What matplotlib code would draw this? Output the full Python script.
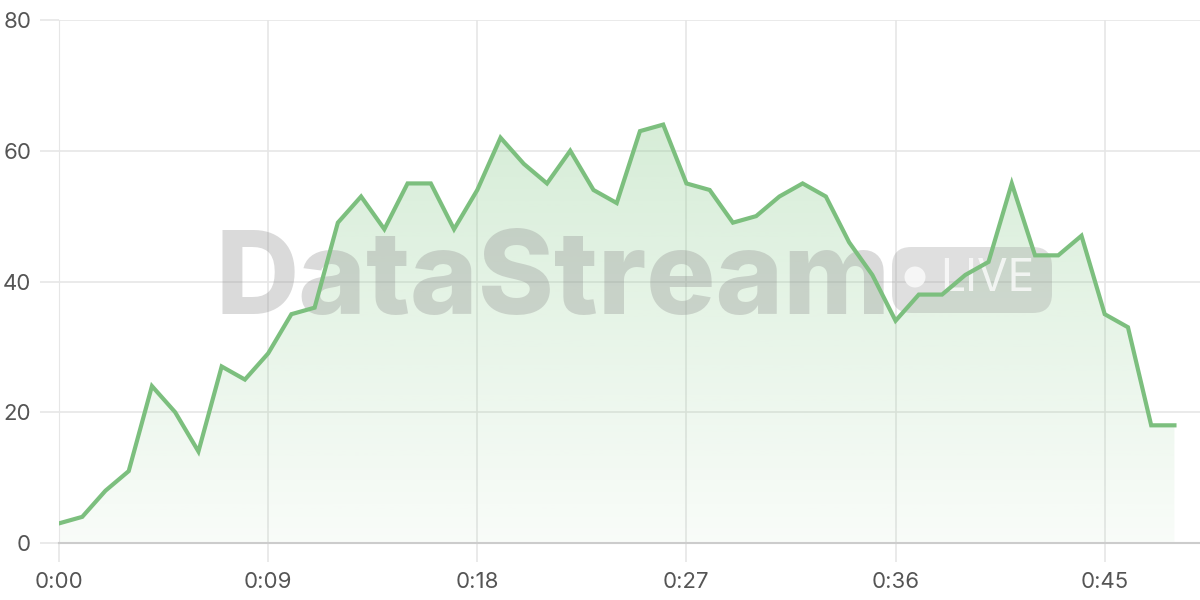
import matplotlib
matplotlib.use("Agg")
import matplotlib.pyplot as plt
import matplotlib.patches as mpatches
import numpy as np

# values per second, 0:00 .. 0:48
seconds = list(range(49))
values = [3, 4, 8, 11, 24, 20, 14, 27, 25, 29, 35, 36, 49, 53, 48, 55, 55, 48, 54, 62,
          58, 55, 60, 54, 52, 63, 64, 55, 54, 49, 50, 53, 55, 53, 46, 41, 34, 38, 38, 41,
          43, 55, 44, 44, 47, 35, 33, 18, 18]
x_ticks = [0, 9, 18, 27, 36, 45]
x_labels = ['0:00', '0:09', '0:18', '0:27', '0:36', '0:45']
y_ticks = [0, 20, 40, 60, 80]

LINE = '#7cbf7e'
GRID = '#e6e6e6'
TXT = '#555555'

plt.rcParams['font.family'] = ['Inter', 'DejaVu Sans']

fig = plt.figure(figsize=(12, 6), dpi=100)
ax = fig.add_axes([59 / 1200, 57 / 600, 1141 / 1200, 523 / 600])

ax.set_xlim(0, 49.1)
ax.set_ylim(0, 80)

# gradient fill under the line
poly = ax.fill_between(seconds, values, 0, color='none', lw=0)
grad = np.linspace(0.05, 0.32, 256).reshape(-1, 1)
rgba = np.zeros((256, 1, 4))
rgba[..., 0] = 129 / 255
rgba[..., 1] = 199 / 255
rgba[..., 2] = 132 / 255
rgba[..., 3] = grad
im = ax.imshow(rgba, extent=[0, 48, 0, max(values)], origin='lower', aspect='auto', zorder=1)
path = poly.get_paths()[0]
im.set_clip_path(path, transform=ax.transData)

# watermark between fill and line
wm = '#8f8f8f'
ax.text(553 / 1200, 1 - 272 / 600, 'DataStream', transform=fig.transFigure,
        ha='center', va='center_baseline', fontsize=83, fontweight='heavy',
        family=['Inter', 'DejaVu Sans'], color=wm, alpha=0.33, zorder=2)
pill = mpatches.FancyBboxPatch((892 / 1200, 1 - 313 / 600), 160 / 1200, 66 / 600,
                               boxstyle='round,pad=0,rounding_size=0.016',
                               transform=fig.transFigure, facecolor=wm, alpha=0.28,
                               edgecolor='none', zorder=2, clip_on=False,
                               mutation_aspect=2)
ax.add_patch(pill)
ax.add_patch(mpatches.Ellipse((915 / 1200, 1 - 277 / 600), 21 / 1200, 21 / 600,
                              transform=fig.transFigure, facecolor='white', alpha=0.75,
                              edgecolor='none', zorder=2.1, clip_on=False))
ax.text(987 / 1200, 1 - 279 / 600, 'LIVE', transform=fig.transFigure, ha='center',
        va='center', fontsize=32, family=['Inter', 'DejaVu Sans'],
        color='white', alpha=0.75, zorder=2.1)

ax.plot(seconds, values, color=LINE, lw=3, zorder=3, solid_joinstyle='miter')

ax.set_xticks(x_ticks)
ax.set_xticklabels(x_labels)
ax.set_yticks(y_ticks)
ax.grid(True, color=GRID, lw=1.2, zorder=0)
ax.set_axisbelow(True)
for s in ['top', 'right']:
    ax.spines[s].set_visible(False)
ax.spines['left'].set_color(GRID)
ax.spines['bottom'].set_color('#cccccc')
ax.spines['bottom'].set_linewidth(1.5)
ax.tick_params(axis='both', length=14, color=GRID, width=1.2, labelsize=16, labelcolor=TXT)
ax.tick_params(axis='x', pad=7)
ax.tick_params(axis='y', pad=6)

fig.savefig('out.png', dpi=100)
